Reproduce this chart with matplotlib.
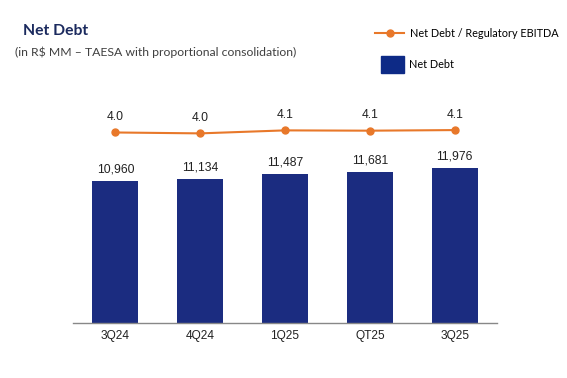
import matplotlib
matplotlib.use("Agg")
import matplotlib.pyplot as plt
from matplotlib.lines import Line2D
from matplotlib.patches import Patch

categories = ["3Q24", "4Q24", "1Q25", "QT25", "3Q25"]
net_debt = [10960, 11134, 11487, 11681, 11976]
ratio = [4.02, 3.99, 4.09, 4.08, 4.10]
ratio_labels = ["4.0", "4.0", "4.1", "4.1", "4.1"]

NAVY = "#1b2c80"
ORANGE = "#e8782a"
TXT = "#222222"

fig = plt.figure(figsize=(5.67, 3.78), dpi=100)
ax = fig.add_axes([0.1287, 0.1455, 0.748, 0.685])
x = list(range(len(categories)))
bars = ax.bar(x, net_debt, width=0.54, color=NAVY, zorder=2)
ax.set_xlim(-0.5, 4.5)
ax.set_ylim(0, 20000)
for xi, v in zip(x, net_debt):
    ax.text(xi, v + 420, f"{v:,}", ha="center", va="bottom", fontsize=8.7,
            family="Liberation Sans", color=TXT)
ax.set_xticks(x)
ax.set_xticklabels(categories, fontsize=8.6, family="Liberation Sans", color=TXT)
ax.tick_params(axis="x", length=0, pad=5)
ax.set_yticks([])
for s in ["top", "right", "left"]:
    ax.spines[s].set_visible(False)
ax.spines["bottom"].set_color("#888888")
ax.spines["bottom"].set_linewidth(1.0)

ax2 = ax.twinx()
ax2.set_ylim(-2.33, 6.3)
ax2.plot(x, ratio, color=ORANGE, lw=1.5, marker="o", ms=5, zorder=3)
for xi, v, lab in zip(x, ratio, ratio_labels):
    ax2.text(xi, v + 0.31, lab, ha="center", va="bottom", fontsize=8.7,
             family="Liberation Sans", color=TXT)
ax2.set_yticks([])
for s in ["top", "right", "left", "bottom"]:
    ax2.spines[s].set_visible(False)

fig.text(0.040, 0.918, "Net Debt", fontsize=11.3, fontweight="bold",
         family="Lato", color="#1b2a5e", ha="left", va="center")
fig.text(0.026, 0.862, "(in R$ MM – TAESA with proportional consolidation)",
         fontsize=8.8, family="Lato", color="#404040", ha="left", va="center")

# legend
fig.legend(handles=[Line2D([0], [0], color=ORANGE, lw=1.5, marker="o", ms=5)],
           labels=["Net Debt / Regulatory EBITDA"], loc="center left",
           bbox_to_anchor=(0.645, 0.912), frameon=False, handlelength=2.6,
           handletextpad=0.6, prop={"family": "Lato", "size": 7.8})
fig.legend(handles=[Patch(color="#0d2a86")], labels=["Net Debt"],
           loc="center left", bbox_to_anchor=(0.655, 0.83), frameon=False,
           handlelength=2.1, handleheight=2.0, handletextpad=0.5,
           prop={"family": "Lato", "size": 7.8})

fig.savefig("out.png", dpi=100)
